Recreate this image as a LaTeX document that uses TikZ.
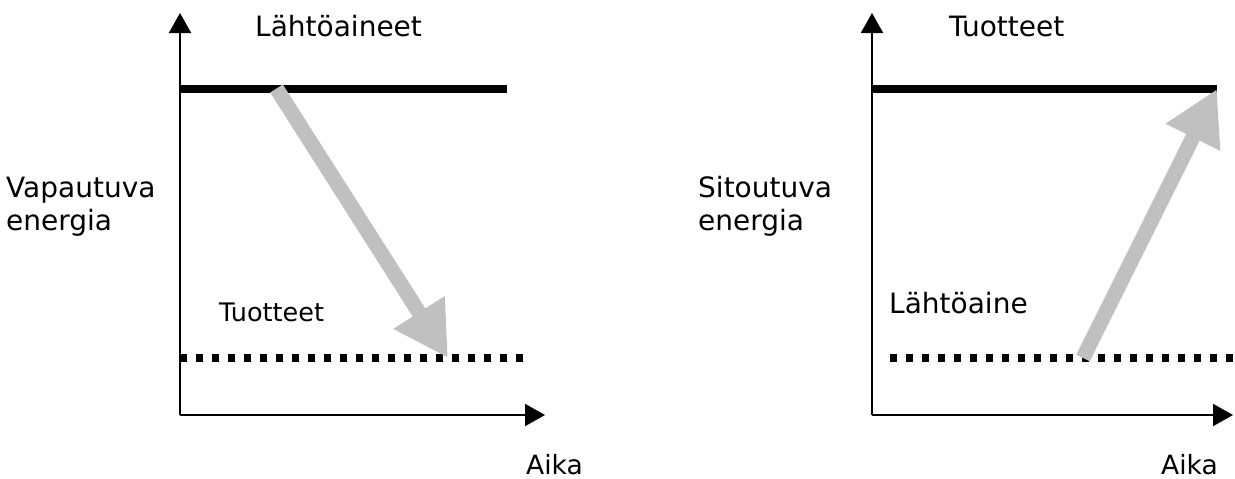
\documentclass[tikz,border=0pt]{standalone}
\usepackage{fontspec}
\setmainfont{DejaVu Sans}
\usetikzlibrary{arrows.meta}
\definecolor{arrowgray}{RGB}{192,192,192}
\tikzset{
  axis/.style={line width=2pt, -{Triangle[length=20pt,width=22pt]}},
  level/.style={line width=7.5pt},
  dotlevel/.style={line width=7.5pt, dash pattern=on 6.5pt off 9.5pt},
  energyarrow/.style={arrowgray, line width=15pt, -{Triangle[length=54pt,width=57pt]}},
  lbl/.style={inner sep=0pt, anchor=base west, font=\fontsize{28}{33}\selectfont},
  lblsmall/.style={lbl, font=\fontsize{25.5}{30}\selectfont},
  lbltime/.style={lbl, font=\fontsize{26.5}{30}\selectfont}
}
\begin{document}
\begin{tikzpicture}[x=1pt, y=-1pt]
\useasboundingbox (0,0) rectangle (1235,479);

% --- exothermic panel ---
\coordinate (o1) at (180,415);
\coordinate (y1) at (180,13);
\coordinate (x1) at (545,415);
\coordinate (r1a) at (180,89);
\coordinate (r1b) at (507,89);
\coordinate (p1a) at (180,358);
\coordinate (p1b) at (524,358);
\coordinate (s1) at (276.5,88.5);
\coordinate (e1) at (448,358);

\draw[axis] (o1) -- (y1);
\draw[axis] (o1) -- (x1);
\draw[level] (r1a) -- (r1b);
\draw[dotlevel] (p1a) -- (p1b);
\draw[energyarrow] (s1) -- (e1);

\node[lbl] (reactants1) at (255,36) {Lähtöaineet};
\node[lbl] (energy1a) at (6,197) {Vapautuva};
\node[lbl] (energy1b) at (6,230) {energia};
\node[lblsmall] (products1) at (219,321) {Tuotteet};
\node[lbltime] (time1) at (526,474) {Aika};

% --- endothermic panel ---
\coordinate (o2) at (872,415);
\coordinate (y2) at (872,13);
\coordinate (x2) at (1233,415);
\coordinate (r2a) at (872,89);
\coordinate (r2b) at (1217,89);
\coordinate (p2a) at (890,358);
\coordinate (p2b) at (1235,358);
\coordinate (s2) at (1083,358);
\coordinate (e2) at (1217,89);

\draw[axis] (o2) -- (y2);
\draw[axis] (o2) -- (x2);
\draw[level] (r2a) -- (r2b);
\draw[dotlevel] (p2a) -- (p2b);
\draw[energyarrow] (s2) -- (e2);

\node[lbl] (products2) at (949,36) {Tuotteet};
\node[lbl] (energy2a) at (698,197) {Sitoutuva};
\node[lbl] (energy2b) at (698,230) {energia};
\node[lbl] (reactants2) at (889,313) {Lähtöaine};
\node[lbltime] (time2) at (1161,474) {Aika};
\end{tikzpicture}
\end{document}
